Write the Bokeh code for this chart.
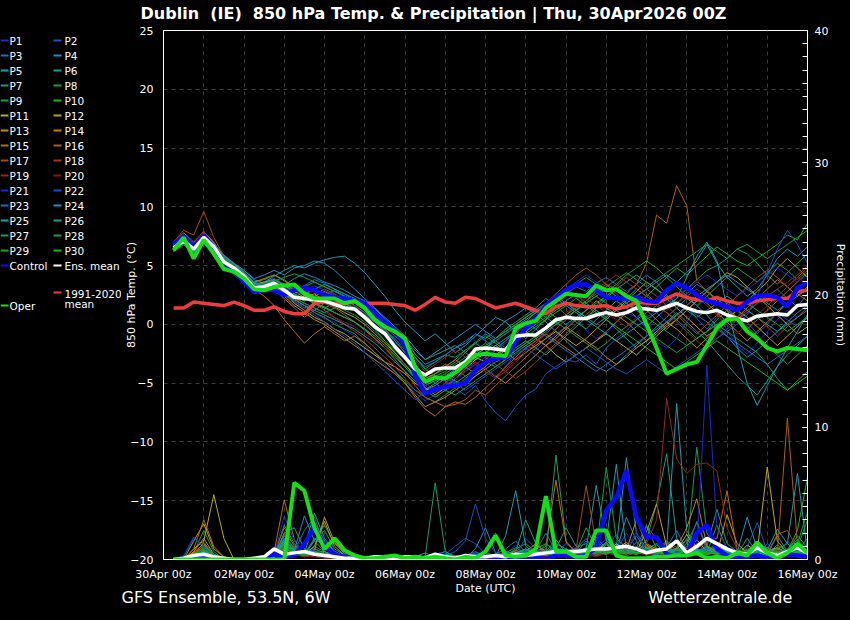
from bokeh.plotting import figure
from bokeh.layouts import row
from bokeh.models import Range1d, LinearAxis, FixedTicker, SingleIntervalTicker, ColumnDataSource
from bokeh.core.properties import value
from bokeh.embed import file_html
from bokeh.resources import INLINE

# ---------------------------------------------------------------- data
hours = list(range(6, 385, 6))          # forecast step (h) after 30Apr 00z
tick_hours = [0, 48, 96, 144, 192, 240, 288, 336, 384]
x_tick_labels = ["30Apr 00z", "02May 00z", "04May 00z", "06May 00z", "08May 00z",
                 "10May 00z", "12May 00z", "14May 00z", "16May 00z"]
day_hours = [0, 24, 48, 72, 96, 120, 144, 168, 192, 216, 240, 264, 288, 312, 336, 360, 384]

member_names = ["P%d" % k for k in range(1, 31)]
member_colors = ["#1c2ad0", "#1a50c4", "#1a70bc", "#1a90c4", "#16a0b0", "#12a090",
                 "#10a068", "#10a048", "#10a830", "#18b818", "#b8b010", "#c0a010",
                 "#c09010", "#c08010", "#b86e10", "#b05e10", "#a84818", "#a03818",
                 "#982818", "#881818",
                 "#1c2ad0", "#1a50c4", "#1a70bc", "#1a90c4", "#16a0b0", "#12a090",
                 "#10a068", "#10a048", "#10a830", "#18b818"]

# 850 hPa temperature (degC)
mean_temp = [6.5, 7.1, 6.4, 7.4, 6.6, 5.3, 4.8, 4.1, 3.1, 3.2, 3.5, 2.9, 2.3, 2.2, 2.1, 2.0,
             1.7, 1.4, 1.3, 0.6, -0.2, -0.8, -1.9, -2.8, -3.8, -4.3, -3.8, -3.7, -3.7, -3.2, -2.1, -2.0,
             -2.1, -2.2, -1.0, -0.9, -0.9, -0.3, 0.4, 0.6, 0.5, 0.5, 0.8, 1.0, 0.8, 1.0, 1.4, 1.3,
             1.2, 1.5, 1.8, 1.4, 1.1, 1.0, 1.2, 0.8, 0.5, 0.3, 0.7, 0.8, 0.9, 0.8, 1.6, 1.7]
control_temp = [6.8, 7.5, 6.6, 7.6, 6.5, 5.2, 4.6, 3.6, 2.8, 3.0, 2.9, 2.5, 2.9, 3.1, 2.9, 2.5,
                2.3, 2.2, 2.0, 1.8, 0.9, 0.2, -0.5, -1.8, -4.3, -5.9, -5.5, -5.3, -5.2, -5.0, -3.9, -3.2,
                -2.9, -2.8, -1.5, -0.3, 0.3, 1.6, 2.3, 2.9, 3.4, 3.4, 2.9, 2.3, 2.2, 2.2, 2.3, 2.0,
                1.9, 2.9, 3.5, 3.1, 2.5, 2.0, 1.8, 1.5, 1.2, 1.9, 2.4, 2.5, 2.3, 1.5, 3.1, 3.6]
oper_temp = [6.3, 7.4, 5.6, 7.2, 6.0, 4.7, 4.5, 3.9, 3.0, 2.9, 3.2, 3.3, 3.4, 2.6, 2.2, 2.2,
             2.2, 1.8, 2.0, 1.4, 0.4, -0.2, -0.6, -1.2, -3.6, -4.9, -4.5, -4.6, -4.1, -3.4, -2.6, -2.5,
             -2.6, -2.7, -0.3, 0.1, 0.3, 1.4, 2.0, 2.6, 2.5, 2.4, 3.3, 2.9, 3.0, 2.4, 2.0, 0.0,
             -2.0, -4.2, -3.8, -3.4, -3.2, -1.8, -0.3, 0.4, 0.5, -0.6, -1.2, -2.0, -2.3, -2.0, -2.1, -2.2]
clim_temp = [1.4, 1.4, 1.9, 1.8, 1.7, 1.6, 1.9, 1.6, 1.2, 1.2, 1.5, 1.1, 0.9, 0.9, 1.8, 1.9,
             1.8, 1.8, 1.9, 1.8, 1.8, 1.8, 1.7, 1.6, 1.2, 1.7, 2.3, 1.9, 1.8, 2.3, 2.2, 1.8,
             1.4, 1.6, 1.8, 1.5, 1.2, 0.9, 1.5, 1.8, 1.6, 1.5, 1.5, 1.6, 1.3, 1.5, 1.9, 1.8,
             1.8, 2.2, 2.6, 2.3, 2.1, 2.0, 2.3, 2.0, 1.8, 1.8, 2.0, 2.1, 2.2, 2.2, 2.8, 2.9]

temp_p01 = [6.3, 7.0, 6.0, 7.2, 6.4, 5.0, 4.2, 3.5, 2.6, 2.8, 3.0, 2.2, 1.5, 1.8, 1.0, 0.5, 0.2, -0.5, -1.0, -1.8, -2.6, -3.5, -4.2, -5.0, -5.8, -6.5, -6.0, -5.2, -4.8, -4.0, -3.2, -3.8, -4.5, -3.6, -2.5, -1.8, -2.2, -1.5, -0.8, -0.2, 0.5, -0.5, -1.2, -0.8, 0.2, 1.0, 0.6, -0.4, -1.5, -2.0, -1.2, 0.2, 1.5, 2.2, 1.0, -0.5, -1.8, -2.5, -1.6, -0.6, 0.4, 1.2, 0.6, 1.5]
temp_p02 = [6.6, 7.3, 6.5, 7.5, 6.8, 5.6, 5.0, 4.4, 3.5, 3.3, 3.8, 3.0, 2.8, 2.5, 3.0, 2.6, 2.0, 1.8, 1.2, 0.8, -0.2, -1.0, -2.0, -3.0, -4.2, -5.0, -4.6, -4.8, -5.5, -6.0, -5.2, -6.5, -7.5, -8.2, -7.0, -6.0, -5.5, -4.2, -3.6, -3.0, -3.2, -2.6, -3.4, -2.0, -1.2, -0.6, 0.4, 1.6, 1.0, 0.2, 0.8, 1.5, 0.5, -0.4, 0.6, 1.8, 1.2, 0.2, -0.8, 0.0, 1.0, 0.4, -0.2, 0.8]
temp_p03 = [6.4, 7.2, 6.3, 7.3, 6.5, 5.4, 4.9, 4.3, 3.4, 3.6, 3.9, 3.4, 2.9, 3.2, 2.8, 2.5, 2.9, 2.4, 1.6, 1.0, 0.2, -0.5, -1.2, -2.2, -3.4, -4.8, -4.2, -3.6, -3.0, -2.2, -1.5, -0.8, -1.4, -2.0, -1.2, -0.2, 0.5, 1.2, 2.0, 2.6, 3.2, 2.8, 3.5, 4.0, 3.4, 2.8, 3.4, 4.2, 3.6, 2.5, 1.8, 2.6, 3.4, 2.9, 2.0, 1.2, 0.4, 1.0, 1.8, 2.4, 3.0, 2.2, 1.5, 2.6]
temp_p04 = [6.9, 7.6, 6.7, 7.8, 6.9, 5.9, 5.2, 4.6, 3.8, 3.5, 3.6, 3.3, 3.9, 4.3, 4.0, 3.6, 3.3, 2.9, 2.4, 2.0, 1.3, 0.5, -0.4, -1.2, -2.5, -3.4, -3.0, -2.6, -2.0, -1.6, -0.8, -1.2, -0.5, 0.3, 0.8, 1.4, 0.9, 0.2, -0.6, -1.4, -2.2, -3.0, -3.6, -4.0, -3.4, -2.6, -1.8, -1.0, -0.2, 0.6, 1.4, 2.2, 1.6, 0.8, -0.2, -1.0, -2.0, -2.8, -2.2, -1.4, -0.6, 0.2, 1.0, 1.6]
temp_p05 = [6.2, 6.9, 6.1, 7.0, 6.2, 5.1, 4.5, 3.9, 3.2, 3.6, 4.1, 4.6, 5.0, 4.8, 5.2, 5.5, 5.7, 5.8, 5.2, 4.4, 3.4, 2.4, 1.2, 0.2, -0.6, -1.4, -0.8, -1.6, -2.4, -1.8, -1.0, -0.2, 0.6, 0.2, -0.6, -1.2, -0.4, 0.4, 1.4, 2.0, 2.6, 1.8, 1.2, 0.6, 1.4, 2.2, 3.0, 2.4, 1.8, 2.6, 3.6, 4.4, 5.4, 6.8, 5.2, 4.0, 3.2, 2.4, 3.0, 4.2, 5.6, 6.4, 5.8, 6.6]
temp_p06 = [6.5, 7.1, 6.2, 7.4, 6.6, 5.2, 4.8, 4.0, 3.0, 2.9, 3.3, 2.7, 2.0, 2.4, 1.8, 1.5, 1.0, 0.6, 0.2, -0.5, -1.2, -2.0, -2.8, -3.6, -4.5, -5.2, -4.8, -4.4, -4.8, -5.2, -4.4, -3.8, -3.2, -2.8, -2.0, -1.4, -2.0, -2.6, -1.8, -1.0, -0.2, 0.6, 1.2, 0.4, -0.4, -1.2, -2.0, -1.4, -0.6, 0.2, 1.0, 0.2, -0.6, -1.4, -2.4, -3.4, -4.4, -5.2, -6.0, -4.8, -3.6, -2.6, -1.8, -1.0]
temp_p07 = [6.7, 7.4, 6.6, 7.6, 6.8, 5.7, 5.1, 4.5, 3.6, 3.8, 4.2, 3.8, 3.2, 2.8, 2.2, 1.8, 2.2, 1.6, 1.2, 0.4, -0.4, -1.4, -2.4, -3.4, -4.4, -5.4, -5.8, -5.0, -4.2, -3.4, -2.6, -2.0, -1.2, -0.4, 0.2, 0.8, 1.4, 2.2, 1.6, 0.8, 0.2, -0.4, 0.4, 1.2, 2.0, 1.4, 0.6, -0.2, 0.6, 1.4, 2.2, 3.0, 3.8, 4.6, 5.0, 5.6, 6.4, 6.0, 5.2, 4.2, 3.4, 4.4, 5.2, 6.0]
temp_p08 = [6.4, 7.1, 6.2, 7.3, 6.3, 5.0, 4.4, 3.8, 2.9, 3.0, 3.2, 2.6, 2.2, 1.6, 1.0, 0.6, 0.0, -0.4, -0.8, -1.6, -2.4, -3.2, -4.0, -4.8, -5.6, -6.2, -6.6, -6.0, -5.4, -4.6, -3.8, -3.2, -3.6, -3.0, -2.2, -1.6, -1.0, -0.4, 0.2, -0.4, -1.0, -1.6, -2.2, -1.6, -0.8, -0.2, 0.4, 1.0, 1.6, 1.0, 0.4, -0.4, -1.2, -0.6, 0.4, 1.2, 0.6, -0.2, -1.0, -1.8, -2.6, -3.4, -2.6, -1.8]
temp_p09 = [6.6, 7.2, 6.4, 7.3, 6.7, 5.5, 4.9, 4.2, 3.2, 3.0, 3.4, 3.0, 2.6, 3.2, 3.6, 3.2, 2.8, 2.4, 2.0, 1.6, 1.0, 0.4, -0.6, -1.6, -2.8, -3.8, -3.2, -2.6, -2.8, -2.2, -1.6, -1.0, -1.6, -2.2, -1.4, -0.6, 0.2, 1.0, 1.8, 2.6, 3.4, 4.0, 3.4, 2.8, 3.4, 4.2, 4.8, 5.4, 4.8, 4.0, 3.2, 2.4, 1.6, 2.4, 3.2, 4.0, 4.8, 4.2, 3.6, 4.4, 5.2, 4.6, 3.8, 4.6]
temp_p10 = [6.3, 7.0, 6.1, 7.1, 6.4, 5.2, 4.6, 4.0, 3.1, 3.3, 3.6, 3.1, 2.5, 2.2, 1.8, 1.4, 1.8, 2.2, 1.8, 1.2, 0.4, -0.4, -1.4, -2.4, -3.6, -4.6, -4.2, -3.8, -3.2, -2.4, -1.6, -2.2, -2.8, -2.2, -1.4, -0.6, 0.0, 0.6, 1.2, 1.8, 1.2, 0.6, 1.4, 2.2, 3.0, 2.4, 1.6, 2.4, 3.2, 4.0, 4.8, 4.2, 5.0, 5.8, 6.6, 6.0, 5.4, 5.0, 5.6, 6.2, 6.8, 7.6, 7.2, 8.6]
temp_p11 = [6.8, 7.4, 6.6, 7.5, 6.7, 5.4, 4.7, 4.0, 3.2, 3.0, 3.2, 2.6, 1.8, 1.2, 0.6, 0.2, -0.4, -0.8, -1.4, -2.0, -2.6, -3.2, -3.6, -4.2, -5.0, -5.6, -5.2, -4.6, -4.0, -3.4, -2.8, -3.2, -2.6, -2.0, -1.2, -0.6, -1.2, -1.8, -2.6, -3.2, -2.6, -2.0, -1.4, -0.8, -1.4, -2.0, -2.6, -1.8, -1.0, -0.2, 0.4, 1.2, 2.0, 2.8, 3.6, 4.4, 4.0, 3.2, 2.4, 1.6, 0.8, 0.0, -0.8, -0.2]
temp_p12 = [6.5, 7.2, 6.5, 7.4, 6.5, 5.3, 4.8, 4.2, 3.4, 3.6, 3.8, 3.3, 2.8, 2.3, 2.6, 2.0, 1.5, 1.0, 0.6, 0.0, -0.8, -1.6, -2.4, -3.4, -4.4, -5.4, -6.0, -5.4, -4.6, -3.8, -3.0, -2.4, -1.8, -2.4, -3.0, -2.4, -1.8, -1.2, -0.6, -1.2, -1.8, -1.2, -0.4, 0.4, 1.2, 2.0, 2.8, 3.6, 3.0, 2.2, 1.4, 0.6, -0.2, -1.0, -0.4, 0.4, 1.2, 2.0, 2.8, 3.6, 4.8, 5.6, 4.8, 4.0]
temp_p13 = [6.6, 7.3, 6.6, 7.7, 6.9, 5.8, 5.2, 4.3, 3.5, 3.2, 3.0, 2.4, 1.6, 1.0, 0.4, 0.0, -0.6, -1.2, -1.8, -2.4, -3.0, -3.6, -4.2, -5.0, -6.0, -7.0, -6.6, -6.2, -5.6, -5.0, -4.4, -3.8, -4.4, -5.0, -4.2, -3.4, -2.6, -1.8, -1.0, -0.2, -0.8, -1.4, -2.0, -2.8, -3.4, -2.8, -2.0, -1.4, -0.6, 0.2, -0.4, -1.2, -2.0, -1.2, -0.4, 0.4, 1.2, 0.6, -0.2, -1.0, -1.8, -1.0, -0.2, 0.6]
temp_p14 = [6.7, 7.5, 6.8, 7.6, 6.9, 5.6, 5.0, 4.4, 3.6, 3.9, 4.2, 3.7, 3.2, 2.8, 2.4, 2.8, 2.4, 1.8, 1.4, 0.8, 0.0, -0.8, -1.8, -2.8, -3.8, -4.6, -4.2, -3.6, -3.0, -3.6, -4.2, -3.6, -2.8, -2.0, -1.2, -0.6, -1.2, -1.8, -1.2, -0.4, 0.4, 1.2, 2.0, 1.4, 0.8, 0.2, -0.6, -1.4, -0.8, 0.0, 0.8, 1.6, 2.4, 1.8, 1.0, 0.2, -0.6, -1.4, -0.6, 0.2, 1.0, 1.8, 2.6, 2.0]
temp_p15 = [6.9, 7.8, 7.0, 7.9, 7.0, 5.6, 4.8, 4.0, 3.0, 2.4, 1.6, 0.4, -0.6, -1.6, -0.8, -0.2, -0.8, -1.4, -1.0, -1.6, -2.4, -3.2, -4.0, -5.0, -6.2, -7.2, -7.8, -7.0, -6.6, -6.8, -6.2, -5.4, -4.6, -3.6, -2.8, -2.0, -1.4, -0.8, -1.4, -2.0, -2.6, -2.0, -1.4, -0.6, 0.2, 1.0, 1.8, 1.2, 0.4, -0.4, 0.4, 1.2, 2.0, 2.8, 2.2, 1.4, 0.6, 1.4, 2.2, 3.0, 3.8, 3.2, 2.4, 3.2]
temp_p16 = [6.8, 7.6, 6.9, 7.8, 6.9, 5.7, 5.0, 4.4, 3.6, 3.2, 3.0, 2.2, 1.4, 0.6, 1.2, 1.8, 1.4, 0.8, 0.2, -0.4, -1.2, -2.0, -3.0, -4.0, -5.2, -6.2, -6.6, -7.0, -6.8, -6.4, -5.6, -6.0, -5.2, -4.4, -3.6, -2.8, -2.0, -1.2, -0.4, 0.4, 1.2, 2.0, 2.8, 3.4, 3.0, 2.6, 3.4, 5.2, 9.3, 8.6, 11.8, 10.1, 3.7, 2.8, 2.0, 1.2, 0.4, -0.4, 0.4, 1.2, 2.0, 2.8, 3.6, 4.4]
temp_p17 = [7.0, 8.0, 7.6, 9.6, 7.4, 5.8, 4.8, 4.2, 3.4, 3.2, 3.4, 3.0, 2.4, 2.0, 2.6, 3.0, 2.6, 2.0, 1.6, 1.0, 0.4, -0.4, -1.4, -2.4, -3.4, -4.4, -4.0, -3.4, -3.8, -4.4, -3.8, -3.0, -2.2, -1.4, -0.6, 0.2, 1.0, 1.8, 2.6, 3.4, 4.2, 4.8, 4.2, 3.4, 2.6, 1.8, 2.4, 3.0, 2.4, 1.6, 0.8, 0.0, -0.8, 0.0, 0.8, 1.6, 2.4, 3.2, 4.0, 4.6, 4.0, 3.2, 4.0, 4.8]
temp_p18 = [6.6, 7.4, 6.8, 7.9, 6.7, 5.4, 4.6, 3.8, 3.0, 2.8, 3.0, 2.5, 2.0, 1.4, 1.8, 1.2, 0.6, 0.0, -0.6, -1.2, -2.0, -2.8, -3.6, -4.6, -5.6, -6.0, -5.6, -5.2, -4.6, -4.0, -3.4, -2.8, -3.4, -4.0, -4.6, -4.0, -3.2, -2.4, -1.6, -0.8, 0.0, 0.8, 1.6, 2.4, 3.2, 4.0, 3.4, 2.6, 1.8, 1.0, 0.2, -0.6, -1.4, -2.0, -1.2, -0.4, 0.4, 1.2, 0.6, -0.2, -1.0, -0.2, 0.6, 1.4]
temp_p19 = [6.5, 7.2, 6.4, 7.3, 6.4, 5.3, 4.7, 4.1, 3.3, 3.5, 3.8, 3.4, 3.0, 2.6, 2.2, 1.8, 1.4, 1.8, 2.2, 1.6, 0.8, 0.0, -0.8, -1.8, -3.0, -4.0, -3.4, -2.8, -2.2, -2.8, -3.4, -4.0, -4.6, -4.0, -3.2, -2.4, -1.6, -0.8, 0.0, 0.8, 1.6, 2.4, 3.0, 3.6, 4.2, 3.6, 3.0, 2.4, 1.8, 1.2, 1.8, 2.4, 3.0, 2.4, 1.8, 1.2, 0.6, 1.2, 1.8, 2.4, 3.0, 3.6, 4.2, 5.0]
temp_p20 = [6.4, 7.1, 6.3, 7.2, 6.5, 5.1, 4.6, 4.0, 3.1, 3.0, 3.3, 2.8, 2.2, 1.8, 1.4, 1.0, 0.6, 0.2, -0.2, -0.8, -1.4, -2.0, -2.6, -3.4, -4.2, -5.0, -5.6, -5.0, -4.4, -3.8, -3.2, -3.8, -4.4, -3.8, -3.0, -2.2, -1.4, -0.6, 0.2, 1.0, 1.6, 2.2, 1.6, 1.0, 0.4, -0.2, 0.6, 1.4, 2.2, 3.0, 3.6, 3.0, 2.4, 1.6, 0.8, 0.0, -0.8, 0.0, 0.8, 1.6, 2.4, 3.2, 4.0, 3.4]
temp_p21 = [6.7, 7.3, 6.5, 7.5, 6.8, 5.6, 5.0, 4.3, 3.4, 3.3, 3.5, 3.0, 2.5, 2.9, 3.3, 2.9, 2.5, 2.0, 1.5, 0.9, 0.2, -0.6, -1.6, -2.8, -4.0, -5.2, -5.8, -5.2, -4.6, -4.0, -3.4, -2.8, -2.2, -1.6, -0.8, 0.0, 0.8, 1.6, 2.4, 3.0, 3.6, 4.2, 3.6, 3.0, 2.4, 1.8, 1.2, 0.6, 1.2, 1.8, 2.4, 3.0, 3.6, 4.2, 3.6, 3.0, 2.4, 3.0, 3.6, 4.2, 4.8, 4.2, 3.6, 4.2]
temp_p22 = [6.4, 7.0, 6.2, 7.1, 6.3, 5.1, 4.5, 3.9, 3.0, 2.8, 3.0, 2.5, 1.9, 1.4, 0.8, 0.2, -0.4, -1.0, -1.6, -2.4, -3.2, -4.0, -4.8, -5.6, -6.4, -5.8, -5.2, -4.6, -5.0, -5.6, -5.0, -4.4, -3.8, -3.2, -2.6, -2.0, -2.6, -3.2, -3.8, -3.2, -2.6, -2.0, -2.6, -3.2, -3.8, -4.2, -3.6, -3.0, -3.6, -4.2, -3.6, -3.0, -2.4, -1.8, -1.2, -0.6, 0.0, 0.8, 2.4, 4.4, 6.4, 8.0, 6.8, 5.2]
temp_p23 = [6.6, 7.4, 6.6, 7.6, 6.8, 5.7, 5.0, 4.4, 3.6, 3.4, 3.6, 3.2, 2.8, 3.3, 3.8, 3.5, 3.0, 2.6, 2.0, 1.4, 0.6, -0.2, -1.0, -1.8, -2.8, -3.6, -3.2, -2.6, -2.0, -1.4, -0.8, -1.4, -2.0, -1.4, -0.6, 0.2, -0.4, -1.0, -1.6, -2.2, -2.8, -3.4, -4.0, -3.4, -2.8, -2.2, -1.6, -1.0, -0.4, 0.2, 0.8, 1.4, 0.8, 0.2, -0.4, -1.0, -1.6, -2.2, -2.8, -3.4, -2.8, -2.2, -1.6, -1.0]
temp_p24 = [6.8, 7.5, 6.7, 7.7, 6.9, 5.8, 5.2, 4.6, 3.9, 4.2, 4.6, 4.2, 4.8, 5.0, 5.4, 5.2, 4.6, 3.8, 3.0, 2.2, 1.4, 0.6, -0.2, -1.0, -2.0, -3.0, -2.4, -1.8, -1.2, -0.6, 0.0, -0.6, -1.2, -0.6, 0.0, 0.6, 1.2, 1.8, 2.4, 1.8, 1.2, 0.6, 0.0, 0.6, 1.2, 1.8, 2.4, 3.0, 3.6, 4.2, 3.6, 3.0, 2.4, 3.0, 3.6, 4.2, 3.6, 3.0, 2.4, 1.8, 1.2, 1.8, 2.4, 3.0]
temp_p25 = [6.3, 6.9, 6.2, 7.0, 6.2, 5.0, 4.4, 3.8, 3.1, 2.9, 3.1, 2.6, 2.1, 1.6, 1.2, 0.8, 0.4, 0.0, -0.4, -1.0, -1.6, -2.4, -3.2, -4.0, -4.8, -5.6, -5.0, -4.4, -3.8, -3.2, -2.6, -2.0, -1.4, -0.8, -0.2, 0.4, 1.0, 1.6, 2.2, 1.6, 1.0, 0.4, -0.2, -0.8, -1.4, -0.8, -0.2, 0.4, 1.0, 1.6, 2.2, 4.0, 5.8, 7.0, 5.4, 1.4, -1.8, -5.0, -6.9, -5.2, -3.6, -2.0, -0.6, 0.8]
temp_p26 = [6.5, 7.2, 6.4, 7.4, 6.5, 5.3, 4.8, 4.2, 3.3, 3.5, 3.8, 3.4, 3.0, 2.6, 3.0, 3.4, 3.0, 2.6, 2.2, 1.6, 1.0, 0.2, -0.6, -1.4, -2.2, -3.0, -2.6, -2.2, -1.8, -2.4, -3.0, -2.4, -1.8, -1.2, -0.6, 0.0, 0.6, 1.2, 0.6, 0.0, 0.6, 1.2, 1.8, 2.4, 3.0, 3.6, 4.2, 3.6, 3.0, 2.4, 1.8, 1.2, 0.6, 1.2, 1.8, 2.4, 1.8, 1.2, 0.6, 0.0, -0.6, 0.0, 0.6, 1.2]
temp_p27 = [6.6, 7.3, 6.5, 7.4, 6.6, 5.5, 4.9, 4.2, 3.3, 3.1, 3.3, 2.8, 2.3, 1.8, 1.4, 1.0, 1.4, 1.8, 1.4, 0.8, 0.2, -0.6, -1.4, -2.4, -3.4, -4.4, -5.0, -5.6, -6.0, -5.4, -4.8, -4.2, -3.6, -3.0, -2.4, -1.8, -1.2, -0.6, 0.0, 0.6, 1.2, 1.8, 2.4, 3.0, 2.4, 1.8, 1.2, 0.6, 0.0, -0.6, -1.2, -1.8, -1.2, -0.6, 0.0, -0.6, -1.2, -1.8, -2.4, -3.4, -4.6, -5.6, -4.8, -4.0]
temp_p28 = [6.4, 7.0, 6.3, 7.2, 6.4, 5.2, 4.6, 4.0, 3.2, 3.4, 3.7, 4.0, 4.3, 4.0, 3.6, 3.2, 2.8, 2.4, 2.0, 1.4, 0.8, 0.0, -0.8, -1.8, -2.8, -3.8, -4.4, -4.0, -3.4, -2.8, -2.2, -1.6, -2.2, -2.8, -2.2, -1.6, -1.0, -0.4, 0.2, 0.8, 1.4, 2.0, 2.6, 3.2, 3.8, 4.4, 3.8, 3.2, 3.8, 4.4, 5.0, 5.6, 6.2, 6.8, 6.2, 5.6, 6.4, 6.8, 6.2, 5.6, 6.2, 6.8, 7.4, 8.0]
temp_p29 = [6.7, 7.4, 6.6, 7.5, 6.7, 5.6, 5.0, 4.3, 3.4, 3.2, 3.4, 2.9, 2.4, 2.0, 2.4, 2.0, 1.6, 1.2, 0.8, 0.2, -0.6, -1.4, -2.2, -3.0, -4.0, -5.0, -4.6, -4.2, -3.6, -3.0, -2.4, -1.8, -1.2, -0.6, 0.0, 0.6, 1.2, 0.6, 0.0, 0.6, 1.2, 1.8, 2.4, 1.8, 1.2, 0.6, 0.0, -0.6, -1.2, -1.8, -2.4, -1.8, -1.2, -0.6, 0.0, 0.6, 1.2, 1.8, 1.2, 0.6, 0.0, -0.6, 0.0, 0.6]
temp_p30 = [6.2, 6.8, 6.0, 6.9, 6.1, 4.9, 4.3, 3.7, 2.9, 3.1, 3.4, 3.0, 2.6, 2.2, 1.8, 1.4, 1.0, 0.6, 0.2, -0.4, -1.0, -1.8, -2.6, -3.6, -4.6, -5.6, -6.2, -5.6, -5.0, -4.4, -3.8, -3.2, -2.6, -2.0, -1.4, -0.8, -0.2, 0.4, 1.0, 1.6, 2.2, 1.6, 1.0, 0.4, -0.2, -0.8, -1.4, -2.0, -2.6, -3.2, -3.8, -3.2, -2.6, -2.0, -1.4, -2.0, -2.6, -3.2, -3.8, -4.4, -5.0, -5.6, -5.0, -4.4]

# precipitation per 6 h (mm)
mean_rain = [0.0, 0.1, 0.3, 0.4, 0.2, 0.1, 0.0, 0.0, 0.1, 0.2, 0.8, 0.4, 0.5, 0.6, 0.4, 0.3,
             0.2, 0.1, 0.1, 0.1, 0.2, 0.2, 0.1, 0.2, 0.2, 0.1, 0.4, 0.2, 0.1, 0.3, 0.2, 0.2,
             0.3, 0.2, 0.4, 0.3, 0.4, 0.5, 0.6, 0.6, 0.6, 0.7, 0.8, 0.8, 0.9, 1.0, 0.8, 0.5,
             0.7, 0.8, 1.4, 0.5, 1.0, 1.6, 1.2, 0.8, 0.5, 0.4, 0.9, 0.5, 0.3, 0.6, 0.9, 0.5]
control_rain = [0, 0, 0.1, 0.1, 0, 0, 0, 0, 0, 0.1, 0.4, 0.2, 0.3, 1.2, 2.4, 1.0,
                0.4, 0.2, 0.1, 0, 0, 0, 0, 0, 0, 0, 0, 0.1, 0, 0, 0.1, 0,
                0, 0, 0.1, 0.1, 0.2, 0, 0.3, 0.3, 0.2, 0.3, 0.9, 3.7, 4.7, 6.7, 3.2, 1.7,
                1.7, 0.4, 0.2, 0.4, 2.0, 2.6, 0.8, 0.3, 0.1, 0.2, 0.3, 0.1, 0.2, 0.4, 0.3, 0.2]
oper_rain = [0, 0, 0, 0, 0, 0, 0, 0, 0, 0, 0, 0, 5.8, 5.2, 2.4, 0.8,
             1.6, 0.7, 0.3, 0.1, 0.1, 0.2, 0.3, 0.1, 0.2, 0.1, 0.2, 0.1, 0, 0.2, 0.1, 0.6,
             1.8, 0.3, 0.2, 0.3, 0.8, 4.8, 0.6, 0.6, 0.2, 0.2, 2.2, 2.2, 0.3, 0.1, 0.1, 0.1,
             0.2, 0.2, 0.3, 0.3, 0.5, 0.1, 0.2, 0.1, 0.5, 0.3, 1.3, 0.5, 0.1, 0.5, 1.2, 0.5]

rain_p01 = [0, 0.3, 1.7, 0.9, 0.3, 0, 0, 0, 0, 0, 0.6, 1.2, 0.5, 0.3, 0.8, 0.4, 0.2, 0, 0, 0.1, 0.3, 0, 0, 0.1, 0, 0.2, 0.4, 0.6, 0.2, 0, 0.3, 0.1, 0, 0.4, 1.1, 0.3, 0.2, 0.8, 0.2, 0.4, 1.2, 0.5, 0.8, 1.6, 0.6, 2.0, 0.9, 0.4, 0.3, 1.2, 0.6, 0.2, 1.5, 0.8, 0.3, 0.6, 1.0, 0.4, 0.2, 0.5, 0.3, 1.4, 0.6, 0.2]
rain_p02 = [0, 0.1, 0.5, 0.4, 0.1, 0, 0, 0, 0, 0, 0.4, 2.0, 1.1, 0.5, 0.9, 0.3, 0.2, 0.1, 0, 0, 0.1, 0.2, 0, 0, 0.1, 0, 0.2, 0.4, 1.0, 1.6, 1.2, 0.4, 0.2, 0.1, 0.4, 1.6, 0.8, 0.3, 0.5, 1.2, 0.6, 0.4, 0.3, 0.8, 1.9, 0.7, 0.4, 2.5, 1.6, 0.5, 0.3, 1.0, 0.8, 0.3, 0.6, 0.2, 0.4, 0.9, 2.8, 0.6, 0.3, 0.5, 1.1, 0.3]
rain_p03 = [0, 0, 0.2, 0.6, 0.2, 0, 0, 0, 0, 0, 0.2, 0.9, 0.6, 2.2, 3.2, 1.0, 0.4, 0.2, 0.1, 0, 0, 0.2, 0.1, 0, 0, 0.1, 0.3, 0.2, 0.1, 0.3, 0.6, 0.2, 0.4, 0.8, 1.4, 0.5, 0.6, 2.0, 0.6, 0.3, 0.8, 1.6, 0.4, 0.5, 1.2, 0.7, 1.8, 0.6, 0.3, 0.9, 2.2, 0.7, 0.4, 0.6, 1.3, 0.4, 0.2, 0.7, 0.4, 1.2, 0.5, 0.3, 0.9, 0.4]
rain_p04 = [0, 0, 0.3, 0.2, 0.1, 0, 0, 0, 0, 0, 0.3, 1.3, 0.6, 0.5, 2.8, 1.4, 0.6, 0.3, 0.1, 0, 0, 0, 0.2, 0, 0, 0.3, 0.2, 0.1, 0, 0.1, 0.8, 2.4, 0.5, 0.3, 0.6, 0.4, 0.9, 0.5, 1.2, 0.8, 0.4, 0.6, 1.7, 0.8, 0.6, 3.2, 1.4, 0.5, 0.7, 0.4, 0.8, 1.5, 0.6, 0.4, 0.9, 0.5, 0.3, 0.2, 0.6, 0.4, 1.8, 0.6, 0.3, 0.8]
rain_p05 = [0, 0.1, 0.2, 0.7, 0.3, 0, 0, 0, 0, 0, 0.2, 0.8, 0.5, 1.0, 3.5, 1.6, 0.6, 0.2, 0, 0, 0.1, 0, 0, 0, 0.2, 0.5, 0.2, 0, 0.3, 0.2, 0.5, 0.3, 0.2, 1.8, 5.2, 1.0, 0.4, 0.6, 0.9, 0.3, 0.5, 0.8, 5.6, 1.4, 0.9, 7.7, 2.0, 0.8, 1.2, 0.9, 11.8, 2.2, 0.8, 0.6, 1.1, 0.4, 0.3, 0.5, 1.4, 0.7, 2.3, 1.2, 6.5, 0.5]
rain_p06 = [0, 0, 0.4, 0.8, 0.2, 0, 0, 0, 0, 0, 0.1, 1.2, 0.7, 0.4, 1.4, 2.6, 1.2, 0.5, 0.2, 0, 0, 0.1, 0, 0, 0, 0.2, 0.3, 0.6, 0.2, 0, 0.4, 0.2, 0.3, 0.2, 0.6, 3.0, 1.2, 0.5, 0.8, 2.4, 1.0, 0.5, 0.7, 1.3, 0.6, 0.9, 0.5, 1.5, 4.2, 8.0, 1.6, 0.7, 0.5, 1.0, 3.8, 1.2, 0.6, 0.3, 0.5, 0.8, 0.4, 0.6, 1.8, 0.9]
rain_p07 = [0, 0, 0.3, 1.3, 0.4, 0, 0, 0, 0, 0, 0.4, 1.8, 0.9, 0.3, 1.5, 2.2, 0.8, 0.3, 0.1, 0, 0, 0.2, 0, 0.1, 0.3, 0.2, 5.8, 0.6, 0.2, 0.1, 0.3, 0.2, 0.4, 0.3, 0.8, 1.2, 0.6, 0.3, 7.9, 1.4, 0.5, 0.8, 0.4, 1.1, 0.7, 0.5, 0.9, 2.6, 0.8, 0.4, 0.6, 1.2, 2.8, 0.9, 0.5, 0.7, 0.4, 1.6, 0.5, 0.3, 0.8, 1.2, 0.6, 0.4]
rain_p08 = [0, 0, 0.5, 2.2, 0.6, 0, 0, 0, 0, 0, 0.3, 2.6, 1.2, 0.4, 1.0, 0.6, 0.3, 0.2, 0, 0, 0.1, 0, 0.1, 0, 0, 0.1, 0.2, 0.4, 0.3, 0.1, 0.2, 0.5, 0.3, 0.5, 0.9, 0.4, 0.3, 0.6, 1.5, 0.5, 0.9, 1.2, 0.6, 7.0, 1.6, 0.8, 0.5, 1.1, 0.7, 1.4, 0.9, 0.6, 8.5, 2.0, 0.8, 0.5, 0.4, 0.7, 1.3, 0.6, 0.5, 0.8, 1.5, 0.6]
rain_p09 = [0, 0, 0.3, 1.1, 0.4, 0, 0, 0, 0, 0, 0.2, 1.6, 0.8, 0.3, 0.6, 0.4, 0.2, 0.1, 0, 0, 0, 0.1, 0, 0, 0, 0, 0.1, 0.3, 0.2, 0, 0.4, 0.1, 0.2, 0.3, 0.5, 0.8, 0.4, 1.2, 0.7, 0.3, 0.6, 2.4, 0.9, 0.5, 0.4, 0.6, 1.3, 0.7, 0.5, 0.8, 0.4, 1.6, 0.7, 0.5, 2.6, 0.8, 0.4, 0.3, 0.6, 0.5, 0.9, 0.4, 1.2, 3.6]
rain_p10 = [0, 0, 0.2, 0.6, 0.2, 0, 0, 0, 0, 0, 0.2, 1.0, 0.6, 0.4, 0.8, 0.5, 0.3, 0.1, 0, 0, 0, 0, 0.1, 0, 0, 0.1, 0.2, 0.1, 0, 0.2, 0.3, 0.2, 0.1, 0.4, 0.6, 0.3, 0.5, 0.7, 0.4, 0.6, 0.8, 0.5, 1.4, 0.7, 0.5, 0.9, 0.6, 0.4, 1.1, 0.6, 0.5, 0.8, 0.4, 1.0, 0.6, 0.5, 0.3, 0.8, 0.5, 0.4, 1.1, 0.6, 2.2, 6.2]
rain_p11 = [0, 0, 0.8, 1.4, 4.9, 1.6, 0, 0, 0, 0, 0.2, 1.1, 0.6, 0.3, 0.6, 0.4, 0.2, 0, 0, 0, 0, 0.1, 0, 0, 0, 0, 0.1, 0.2, 0.1, 0, 0.2, 0.1, 0.1, 0.3, 0.4, 0.2, 0.3, 0.5, 0.3, 0.2, 0.4, 0.8, 0.3, 0.5, 1.2, 0.6, 0.4, 0.9, 0.5, 0.3, 0.7, 1.9, 0.6, 0.4, 0.8, 0.5, 0.3, 1.1, 0.6, 7.0, 1.4, 0.5, 0.8, 0.4]
rain_p12 = [0, 0, 1.4, 2.7, 0.8, 0.2, 0, 0, 0, 0, 0.3, 1.2, 0.8, 0.4, 1.0, 2.9, 1.0, 0.3, 0, 0, 0, 0, 0, 0, 0.1, 0, 0.2, 0.3, 0.1, 0, 0.1, 0.1, 0.2, 0.4, 0.6, 0.3, 0.2, 0.5, 0.8, 0.4, 0.3, 0.6, 1.0, 0.5, 0.8, 1.3, 0.6, 2.1, 4.2, 1.0, 0.5, 0.7, 1.5, 0.6, 0.4, 3.4, 1.2, 0.5, 0.3, 0.6, 0.9, 0.5, 0.4, 0.6]
rain_p13 = [0, 0, 0.6, 1.6, 0.4, 0, 0, 0, 0, 0, 0.2, 0.9, 0.5, 0.2, 0.7, 3.2, 1.3, 0.4, 0, 0, 0, 0, 0, 0, 0, 0, 0.1, 0.2, 0.2, 0.1, 0.3, 0.2, 0.3, 0.2, 0.5, 0.4, 0.6, 0.8, 0.4, 0.5, 0.7, 0.4, 0.6, 1.2, 0.5, 0.7, 3.0, 1.1, 0.6, 0.4, 1.4, 0.8, 0.5, 0.6, 0.9, 0.7, 0.4, 0.6, 0.3, 0.5, 0.8, 0.4, 0.6, 0.3]
rain_p14 = [0, 0, 0.5, 1.2, 0.3, 0, 0, 0, 0, 0, 0.2, 0.7, 0.4, 0.3, 0.5, 0.6, 0.2, 0.1, 0, 0, 0, 0, 0, 0, 0, 0, 0.1, 0.3, 0.1, 0, 0.2, 0.2, 0.2, 0.3, 0.4, 0.6, 1.2, 0.5, 0.3, 0.4, 0.5, 0.4, 0.8, 0.6, 0.4, 0.9, 0.6, 1.2, 0.8, 0.5, 0.9, 2.4, 4.6, 1.0, 0.6, 0.8, 0.5, 0.4, 0.7, 0.9, 0.5, 0.3, 0.5, 0.4]
rain_p15 = [0, 0, 0.8, 3.0, 1.0, 0.2, 0, 0, 0, 0, 0.6, 4.5, 1.5, 0.4, 0.6, 0.4, 0.3, 0.1, 0, 0, 0, 0, 0, 0, 0, 0, 0.2, 0.3, 0.2, 0.1, 0.2, 0.1, 0.2, 0.3, 0.7, 0.4, 0.5, 1.0, 6.0, 1.3, 0.6, 0.4, 0.5, 0.9, 0.6, 0.4, 0.8, 1.0, 0.6, 1.3, 0.7, 0.5, 0.8, 1.4, 1.6, 5.2, 0.7, 0.5, 0.8, 0.6, 0.4, 0.5, 0.7, 0.3]
rain_p16 = [0, 0, 0.4, 1.0, 0.3, 0, 0, 0, 0, 0, 0.5, 2.4, 1.0, 0.4, 0.5, 0.3, 0.2, 0, 0, 0, 0, 0, 0, 0, 0, 0, 0.1, 0.2, 0.1, 0, 0.1, 0.1, 0.1, 0.2, 0.4, 0.3, 0.6, 0.5, 0.4, 0.7, 0.4, 0.5, 0.6, 0.9, 0.5, 0.7, 0.4, 0.6, 0.8, 0.5, 0.6, 0.4, 0.7, 0.5, 0.9, 0.6, 0.5, 0.4, 0.8, 0.6, 0.5, 10.7, 1.2, 0.6]
rain_p17 = [0, 0, 0.3, 0.7, 0.2, 0, 0, 0, 0, 0, 0.4, 1.9, 0.8, 0.3, 0.5, 0.3, 0.1, 0, 0, 0, 0, 0, 0, 0, 0, 0, 0.1, 0.1, 0.2, 0, 0.1, 0, 0.1, 0.2, 0.3, 0.5, 0.4, 0.3, 0.6, 0.4, 0.7, 5.6, 1.2, 0.6, 0.4, 0.8, 0.5, 0.7, 0.5, 0.6, 0.4, 0.8, 1.2, 0.6, 0.5, 0.7, 0.4, 0.6, 1.0, 0.5, 1.9, 2.2, 0.8, 0.5]
rain_p18 = [0, 0, 0.2, 0.5, 0.2, 0, 0, 0, 0, 0, 0.3, 1.4, 0.6, 0.2, 0.4, 0.2, 0.1, 0, 0, 0, 0, 0, 0, 0, 0, 0, 0, 0.1, 0.1, 0, 0.1, 0, 0.1, 0.1, 0.2, 0.3, 0.2, 0.4, 0.3, 0.2, 0.4, 0.3, 0.5, 0.4, 0.6, 0.3, 0.5, 0.4, 0.6, 0.4, 0.5, 0.3, 0.6, 0.4, 0.5, 0.3, 0.4, 0.3, 0.5, 0.4, 0.3, 0.5, 0.4, 0.3]
rain_p19 = [0, 0, 0.2, 0.4, 0.1, 0, 0, 0, 0, 0, 0.2, 1.0, 0.5, 0.3, 0.2, 0.1, 0, 0, 0, 0, 0, 0, 0, 0, 0, 0, 0, 0.1, 0, 0, 0, 0, 0.1, 0.2, 0.3, 0.2, 0.4, 0.3, 0.5, 0.3, 0.4, 0.6, 0.3, 0.5, 0.4, 0.7, 0.5, 1.2, 3.0, 12.2, 7.6, 6.5, 7.2, 7.3, 6.7, 2.4, 0.8, 0.5, 0.6, 0.4, 0.7, 0.5, 0.6, 0.4]
rain_p20 = [0, 0, 0.1, 0.3, 0.1, 0, 0, 0, 0, 0, 0.2, 0.8, 0.4, 0.2, 0.3, 0.1, 0, 0, 0, 0, 0, 0, 0, 0, 0, 0, 0, 0, 0.1, 0, 0, 0, 0, 0.1, 0.2, 0.1, 0.3, 0.2, 0.4, 0.2, 0.3, 0.4, 0.2, 0.5, 0.3, 0.4, 0.6, 0.3, 0.5, 0.3, 0.4, 0.6, 0.3, 0.5, 0.4, 0.3, 0.5, 0.4, 0.3, 0.6, 0.4, 0.3, 0.5, 0.4]
rain_p21 = [0, 0, 0.2, 0.5, 0.2, 0, 0, 0, 0, 0, 0.3, 3.3, 1.4, 0.5, 0.7, 0.4, 0.2, 0.1, 0, 0, 0, 0.1, 0, 0, 0, 0, 0.1, 0.2, 0.1, 0.3, 0.5, 0.2, 0.3, 0.2, 0.6, 0.4, 0.8, 0.5, 0.4, 0.6, 0.9, 0.6, 0.5, 0.8, 1.3, 0.7, 2.1, 0.6, 0.4, 0.8, 0.5, 0.7, 0.9, 14.7, 2.4, 0.8, 0.5, 0.3, 0.6, 0.4, 0.5, 0.7, 0.4, 0.6]
rain_p22 = [0, 0.2, 1.6, 1.0, 0.4, 0, 0, 0, 0, 0, 0.2, 1.1, 0.6, 0.3, 0.5, 0.3, 0.2, 0, 0, 0, 0, 0, 0.1, 0, 0, 0.1, 0.2, 0.3, 0.6, 1.4, 4.2, 1.6, 0.5, 0.3, 0.4, 0.6, 0.3, 0.8, 0.5, 0.4, 0.6, 0.9, 0.5, 0.7, 0.4, 0.6, 1.0, 0.5, 0.7, 0.4, 0.6, 0.5, 0.8, 0.6, 0.4, 0.7, 0.5, 0.4, 0.6, 0.3, 0.5, 0.8, 0.4, 0.5]
rain_p23 = [0, 0, 0.3, 0.8, 0.3, 0, 0, 0, 0, 0, 0.4, 1.6, 0.8, 0.4, 0.6, 0.3, 0.2, 0, 0, 0, 0.1, 0, 0, 0, 0, 0.2, 0.1, 0.2, 0.3, 0.1, 0.4, 0.2, 0.3, 0.5, 0.4, 0.7, 0.5, 0.4, 0.9, 0.6, 0.5, 1.4, 0.7, 0.5, 0.9, 0.6, 0.8, 0.5, 0.6, 0.9, 0.5, 0.7, 2.9, 0.6, 0.4, 0.8, 0.6, 0.4, 0.7, 0.5, 0.3, 0.6, 0.5, 0.4]
rain_p24 = [0, 0, 0.2, 0.4, 0.2, 0, 0, 0, 0, 0, 0.3, 1.2, 0.7, 3.3, 1.4, 0.6, 0.3, 0.1, 0, 0, 0, 0.1, 0, 0, 0, 0, 0.1, 0.2, 0.2, 0, 0.3, 0.2, 0.2, 0.3, 0.5, 0.4, 0.6, 0.5, 0.3, 0.5, 0.6, 0.8, 0.5, 0.9, 0.6, 1.1, 0.7, 0.5, 0.4, 0.6, 0.8, 0.5, 0.7, 0.9, 0.5, 0.6, 0.5, 3.2, 0.8, 0.5, 0.6, 0.4, 0.7, 0.5]
rain_p25 = [0, 0, 0.2, 0.6, 0.2, 0, 0, 0, 0, 0, 0.3, 1.5, 0.7, 0.4, 1.6, 1.0, 0.4, 0.2, 0, 0, 0, 0, 0, 0, 0, 0.1, 0.1, 0.4, 0.2, 0.1, 0.2, 0.6, 2.0, 0.6, 0.4, 0.8, 0.5, 0.6, 0.4, 0.7, 0.5, 0.9, 0.6, 1.3, 7.2, 0.7, 0.5, 0.9, 0.6, 0.4, 0.8, 0.5, 0.7, 0.6, 0.9, 0.5, 0.7, 0.4, 0.6, 0.5, 0.8, 0.6, 0.5, 0.4]
rain_p26 = [0, 0, 0.2, 0.5, 0.2, 0, 0, 0, 0, 0, 0.2, 2.0, 2.4, 0.8, 0.5, 0.3, 0.2, 0, 0, 0, 0, 0, 0, 0, 0, 0, 0.2, 0.3, 0.1, 0, 0.2, 0.1, 0.2, 0.3, 0.4, 0.5, 0.3, 0.6, 0.4, 0.5, 0.7, 0.5, 0.6, 0.4, 0.8, 0.5, 0.9, 0.6, 0.5, 0.7, 0.4, 0.6, 0.5, 0.8, 0.6, 0.4, 0.6, 0.5, 0.7, 0.4, 0.5, 0.6, 0.8, 0.5]
rain_p27 = [0, 0, 0.2, 0.6, 0.2, 0, 0, 0, 0, 0, 0.3, 1.1, 0.6, 0.3, 0.4, 0.2, 0.1, 0, 0, 0, 0, 0, 0, 0, 0, 0, 0.1, 0.2, 0.1, 0, 0.1, 0.1, 0.1, 0.2, 0.3, 0.5, 0.4, 0.3, 0.5, 0.4, 0.6, 0.4, 0.5, 0.8, 0.6, 0.4, 0.7, 0.5, 0.6, 0.4, 0.8, 0.5, 0.6, 0.4, 0.5, 0.7, 0.4, 0.6, 0.5, 0.3, 0.6, 0.4, 0.5, 0.8]
rain_p28 = [0, 0, 0.3, 0.9, 0.4, 0, 0, 0, 0, 0, 0.2, 0.8, 0.5, 0.3, 0.6, 0.3, 0.2, 0, 0, 0, 0, 0, 0, 0, 0, 0, 0.1, 0.2, 0.2, 0.1, 0.2, 0.1, 0.2, 0.3, 0.4, 0.6, 0.8, 1.2, 0.6, 0.5, 0.4, 0.6, 0.5, 0.7, 0.4, 0.6, 0.5, 0.8, 0.6, 0.4, 0.7, 0.5, 0.8, 0.6, 0.4, 0.5, 0.7, 0.5, 0.4, 0.6, 0.8, 0.5, 0.7, 1.6]
rain_p29 = [0, 0, 0.2, 0.5, 0.2, 0, 0, 0, 0, 0, 0.2, 0.9, 0.5, 0.3, 0.5, 0.3, 0.2, 0, 0, 0, 0, 0, 0, 0, 0, 0, 0.1, 0.1, 0.1, 0, 0.1, 0.1, 0.1, 0.2, 0.3, 0.4, 0.3, 0.4, 0.5, 0.3, 0.5, 0.4, 0.6, 0.4, 0.7, 0.5, 0.4, 0.6, 0.5, 0.7, 0.4, 0.6, 0.5, 0.4, 0.6, 0.5, 0.4, 0.5, 0.6, 0.4, 0.5, 0.7, 0.9, 3.0]
rain_p30 = [0, 0, 0.2, 0.7, 0.3, 0, 0, 0, 0, 0, 0.3, 1.4, 0.7, 0.4, 0.6, 0.4, 0.2, 0.1, 0, 0, 0, 0, 0, 0, 0, 0, 0.1, 0.2, 0.1, 0, 0.2, 0.1, 0.2, 0.3, 0.5, 0.3, 0.4, 0.6, 0.4, 0.5, 0.6, 0.5, 0.7, 0.5, 0.6, 0.8, 0.5, 0.7, 0.5, 0.6, 0.4, 0.7, 0.6, 0.5, 0.4, 0.6, 0.5, 0.7, 0.4, 0.6, 0.5, 0.4, 0.6, 0.5]

member_temps = [temp_p01, temp_p02, temp_p03, temp_p04, temp_p05, temp_p06, temp_p07, temp_p08,
                temp_p09, temp_p10, temp_p11, temp_p12, temp_p13, temp_p14, temp_p15, temp_p16,
                temp_p17, temp_p18, temp_p19, temp_p20, temp_p21, temp_p22, temp_p23, temp_p24,
                temp_p25, temp_p26, temp_p27, temp_p28, temp_p29, temp_p30]
member_rains = [rain_p01, rain_p02, rain_p03, rain_p04, rain_p05, rain_p06, rain_p07, rain_p08,
                rain_p09, rain_p10, rain_p11, rain_p12, rain_p13, rain_p14, rain_p15, rain_p16,
                rain_p17, rain_p18, rain_p19, rain_p20, rain_p21, rain_p22, rain_p23, rain_p24,
                rain_p25, rain_p26, rain_p27, rain_p28, rain_p29, rain_p30]

# non-breaking spaces keep the double gaps of the heading
title_text = "Dublin \u00a0(IE) \u00a0850 hPa Temp. & Precipitation | Thu, 30Apr2026 00Z"
source_text = "GFS Ensemble, 53.5N, 6W"
site_text = "Wetterzentrale.de"

CONTROL = "#0a0aff"
MEAN = "#ffffff"
CLIM = "#f03c3c"
OPER = "#14e014"
FONT = "DejaVu Sans"

# ---------------------------------------------------------------- layout
H = 620
LEG_W = 121                 # legend strip on the left
MAIN_W = 850 - LEG_W
FRAME_TOP, FRAME_BOTTOM = 30, 559

# ---------------------------------------------------------------- main chart
p = figure(width=MAIN_W, height=H, output_backend="svg", toolbar_location=None,
           title_location=None,
           x_range=Range1d(0, 384), y_range=Range1d(-20, 25),
           background_fill_color="black", border_fill_color="black",
           min_border_left=163 - LEG_W, min_border_right=40,
           min_border_top=FRAME_TOP, min_border_bottom=H - FRAME_BOTTOM)
p.extra_y_ranges = {"rain": Range1d(0, 40)}
p.outline_line_color = "white"
p.outline_line_width = 1

# grid
p.xgrid.ticker = FixedTicker(ticks=day_hours)
for g in (p.xgrid, p.ygrid):
    g.grid_line_color = "#3c3c3c"
    g.grid_line_dash = "4 4"
    g.grid_line_width = 1

# x axis
xa = p.xaxis[0]
xa.ticker = FixedTicker(ticks=tick_hours)
xa.major_label_overrides = {h: t for h, t in zip(tick_hours, x_tick_labels)}
xa.axis_label = "Date (UTC)"

# left (temperature) axis
ya = p.yaxis[0]
ya.ticker = SingleIntervalTicker(interval=5)
ya.axis_label = "850 hPa Temp. (°C)"

# right (precipitation) axis
ra = LinearAxis(y_range_name="rain", axis_label="Precipitation (mm)",
                ticker=SingleIntervalTicker(interval=10, num_minor_ticks=10))
p.add_layout(ra, "right")

for ax in (xa, ya, ra):
    ax.axis_line_color = "white"
    ax.major_label_text_color = "white"
    ax.major_label_text_font = FONT
    ax.major_label_text_font_size = "11px"
    ax.axis_label_text_color = "white"
    ax.axis_label_text_font = FONT
    ax.axis_label_text_font_size = "11px"
    ax.axis_label_text_font_style = "normal"
for ax in (xa, ya):
    ax.major_tick_line_color = None
    ax.minor_tick_line_color = None
    ax.major_tick_out = 0
    ax.major_tick_in = 0
    ax.minor_tick_out = 0
    ax.minor_tick_in = 0
xa.major_label_standoff = 8
xa.axis_label_standoff = -2
ya.major_label_standoff = 10
ya.axis_label_standoff = -11
ra.major_tick_in = 5
ra.major_tick_out = 0
ra.minor_tick_in = 5
ra.minor_tick_out = 0
ra.major_tick_line_color = "white"
ra.minor_tick_line_color = "white"
ra.major_label_standoff = 7
ra.axis_label_standoff = 3


def text_axis(side, tick, text, size, style, standoff):
    """A bare axis that only carries one line of text (heading / source line)."""
    ax = LinearAxis(ticker=FixedTicker(ticks=sorted(tick)),
                    major_label_overrides=dict(zip(tick, text)))
    ax.axis_line_color = None
    ax.major_tick_line_color = None
    ax.minor_tick_line_color = None
    ax.major_tick_out = 0
    ax.major_tick_in = 0
    ax.minor_tick_out = 0
    ax.minor_tick_in = 0
    ax.major_label_text_color = "white"
    ax.major_label_text_font = FONT
    ax.major_label_text_font_size = size
    ax.major_label_text_font_style = style
    ax.major_label_standoff = standoff
    p.add_layout(ax, side)


# heading above the frame and source line under the date axis
text_axis("above", [161], [title_text], "16px", "bold", 8)
text_axis("below", [36, 332], [source_text, site_text], "16px", "normal", -10)

# precipitation traces (right axis)
for rain, col in zip(member_rains, member_colors):
    p.line(hours, rain, y_range_name="rain", line_color=col, line_width=1)
p.line(hours, control_rain, y_range_name="rain", line_color=CONTROL, line_width=4.5)
p.line(hours, mean_rain, y_range_name="rain", line_color=MEAN, line_width=3.5)
p.line(hours, oper_rain, y_range_name="rain", line_color=OPER, line_width=4)

# temperature traces (left axis)
for temp, col in zip(member_temps, member_colors):
    p.line(hours, temp, line_color=col, line_width=1)
p.line(hours, clim_temp, line_color=CLIM, line_width=3.5)
p.line(hours, control_temp, line_color=CONTROL, line_width=4.5)
p.line(hours, mean_temp, line_color=MEAN, line_width=3.5)
p.line(hours, oper_temp, line_color=OPER, line_width=4)

# ---------------------------------------------------------------- legend strip
# page pixel coordinates: x to the right, y downwards from the top of the page
lg = figure(width=LEG_W, height=H, output_backend="svg", toolbar_location=None,
            title_location=None,
            x_range=Range1d(0, LEG_W), y_range=Range1d(FRAME_BOTTOM, FRAME_TOP),
            x_axis_type=None, y_axis_type=None,
            background_fill_color="black", border_fill_color="black",
            min_border_left=0, min_border_right=0,
            min_border_top=FRAME_TOP, min_border_bottom=H - FRAME_BOTTOM)
lg.outline_line_color = None
lg.outline_line_alpha = 0
lg.outline_line_width = 0
lg.grid.visible = False

sw = dict(x0=[], x1=[], y=[], color=[])
tx = dict(x=[], y=[], text=[])


def add_entry(x, y, label, color, ty=None):
    sw["x0"].append(x)
    sw["x1"].append(x + 8)
    sw["y"].append(y)
    sw["color"].append(color)
    for k, line in enumerate(label.split("\n")):
        tx["x"].append(x + 9 if x == 0 else x + 11)
        tx["y"].append((y if ty is None else ty) + 10 * k)
        tx["text"].append(line)


for k, (name, col) in enumerate(zip(member_names, member_colors)):
    r, c = divmod(k, 2)
    add_entry(0 if c == 0 else 53, 40 + 15 * r, name, col)
add_entry(0, 265, "Control", CONTROL)
add_entry(53, 265, "Ens. mean", MEAN)
add_entry(53, 292, "1991-2020\nmean", CLIM, ty=293)
add_entry(0, 305, "Oper", OPER)

lg.segment(x0="x0", y0="y", x1="x1", y1="y", line_color="color", line_width=2,
           source=ColumnDataSource(sw))
lg.text(x="x", y="y", text="text", source=ColumnDataSource(tx), text_color="white",
        text_font=value(FONT), text_font_size="10.5px", text_baseline="middle",
        text_align="left")

layout = row(lg, p, spacing=0)
layout.styles = {"background-color": "black"}
open("out.html", "w").write(file_html(layout, INLINE))
